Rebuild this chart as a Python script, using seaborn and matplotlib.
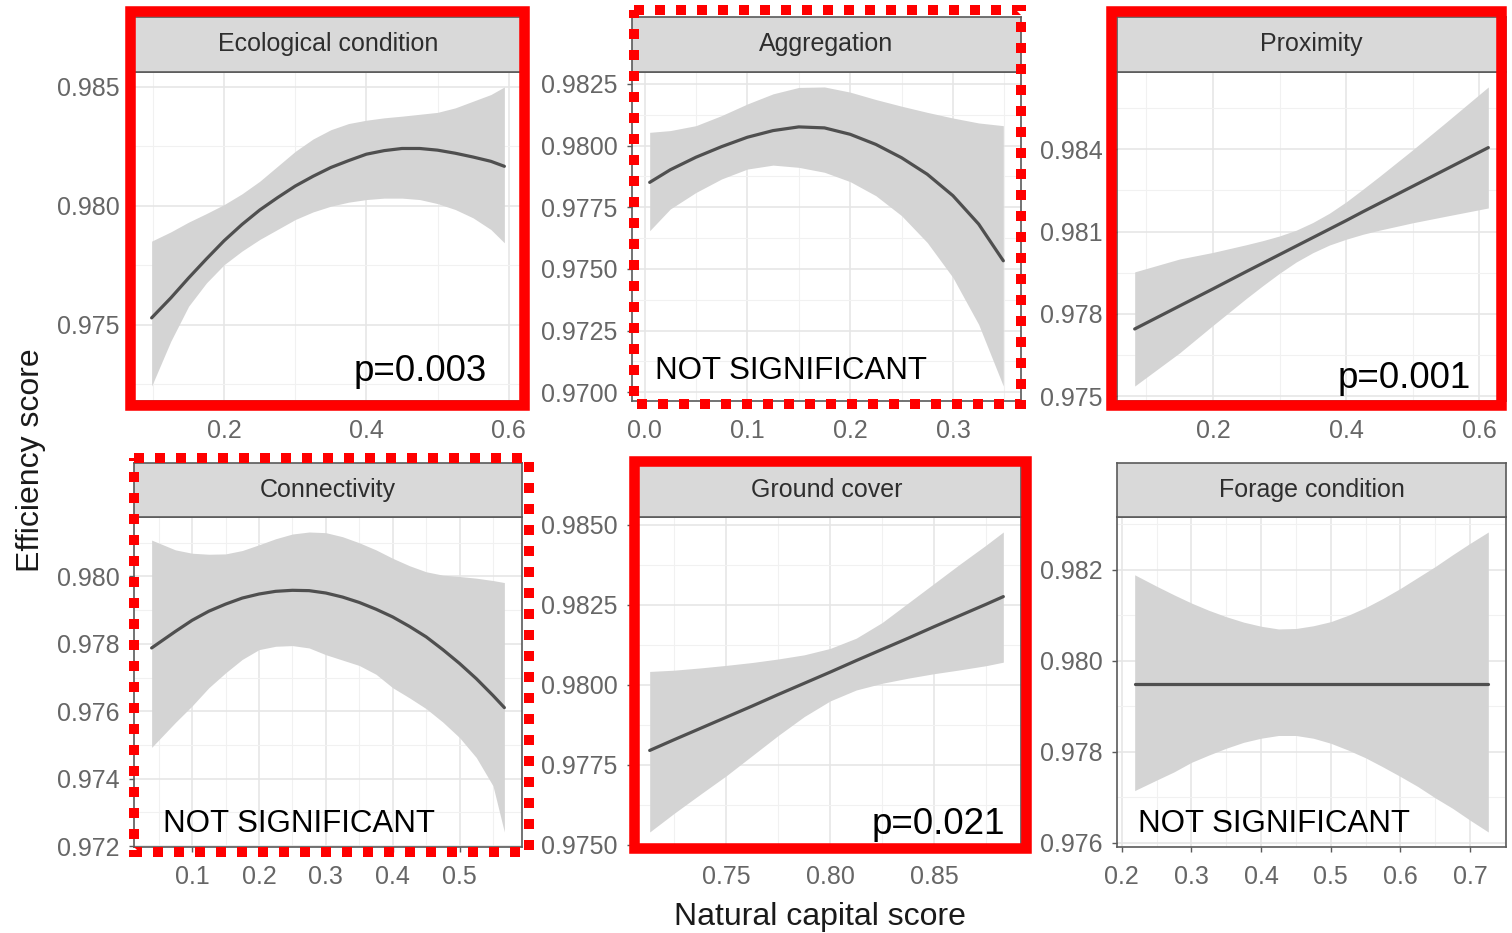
import matplotlib
matplotlib.use("Agg")
import matplotlib.pyplot as plt
from matplotlib.patches import Rectangle
from matplotlib.ticker import FixedLocator, MultipleLocator, FormatStrFormatter
import pandas as pd
import seaborn as sns

sns.set_theme(style="white")
plt.rcParams['font.family'] = ['Liberation Sans', 'DejaVu Sans']

# ---- values ----
panel_names = ["Ecological condition", "Aggregation", "Proximity",
               "Connectivity", "Ground cover", "Forage condition"]
panel_notes = ["p=0.003", "NOT SIGNIFICANT", "p=0.001",
               "NOT SIGNIFICANT", "p=0.021", "NOT SIGNIFICANT"]

eco_x = [0.098, 0.125, 0.15, 0.175, 0.20, 0.225, 0.25, 0.275, 0.30, 0.325, 0.35,
         0.375, 0.40, 0.425, 0.45, 0.475, 0.50, 0.525, 0.55, 0.575, 0.594]
eco_fit = [0.97528, 0.97612, 0.97696, 0.97776, 0.97853, 0.97921, 0.97982, 0.98034, 0.98083, 0.98124, 0.98161,
           0.98190, 0.98217, 0.98232, 0.98241, 0.98241, 0.98234, 0.98221, 0.98205, 0.98187, 0.98166]
eco_hi = [0.97851, 0.97890, 0.97931, 0.97967, 0.98005, 0.98050, 0.98103, 0.98166, 0.98229, 0.98281, 0.98320,
          0.98346, 0.98360, 0.98370, 0.98377, 0.98385, 0.98393, 0.98412, 0.98440, 0.98468, 0.98500]
eco_lo = [0.97241, 0.97430, 0.97577, 0.97675, 0.97752, 0.97809, 0.97858, 0.97900, 0.97942, 0.97974, 0.97998,
          0.98015, 0.98026, 0.98032, 0.98032, 0.98026, 0.98009, 0.97984, 0.97949, 0.97900, 0.97844]

agg_x = [0.005, 0.025, 0.05, 0.075, 0.10, 0.125, 0.15, 0.175, 0.20, 0.225, 0.25, 0.275, 0.30, 0.325, 0.349]
agg_fit = [0.97851, 0.97902, 0.97953, 0.97996, 0.98034, 0.98061, 0.98076, 0.98072, 0.98046, 0.98005, 0.97951, 0.97884, 0.97797, 0.97682, 0.97533]
agg_hi = [0.98054, 0.98061, 0.98081, 0.98122, 0.98169, 0.98210, 0.98236, 0.98238, 0.98217, 0.98187, 0.98160, 0.98135, 0.98112, 0.98092, 0.98081]
agg_lo = [0.97655, 0.97743, 0.97810, 0.97865, 0.97905, 0.97921, 0.97912, 0.97892, 0.97854, 0.97797, 0.97716, 0.97607, 0.97465, 0.97275, 0.97025]

prox_x = [0.0825, 0.15, 0.20, 0.25, 0.275, 0.30, 0.325, 0.35, 0.375, 0.40, 0.425, 0.45, 0.50, 0.55, 0.6135]
prox_fit = [0.97745, 0.97829, 0.97891, 0.97954, 0.97985, 0.98016, 0.98047, 0.98078, 0.98109, 0.98140, 0.98172, 0.98203, 0.98265, 0.98327, 0.98406]
prox_hi = [0.97953, 0.98000, 0.98024, 0.98052, 0.98067, 0.98084, 0.98105, 0.98133, 0.98167, 0.98208, 0.98254, 0.98301, 0.98398, 0.98498, 0.98627]
prox_lo = [0.97537, 0.97658, 0.97758, 0.97856, 0.97903, 0.97948, 0.97989, 0.98023, 0.98051, 0.98072, 0.98090, 0.98105, 0.98132, 0.98156, 0.98186]

conn_x = [0.0395, 0.075, 0.10, 0.125, 0.15, 0.175, 0.20, 0.225, 0.25, 0.275, 0.30,
          0.325, 0.35, 0.375, 0.40, 0.425, 0.45, 0.475, 0.50, 0.525, 0.55, 0.567]
conn_fit = [0.97788, 0.97837, 0.97870, 0.97897, 0.97918, 0.97936, 0.97948, 0.97956, 0.97959, 0.97958, 0.97951,
            0.97939, 0.97923, 0.97903, 0.97880, 0.97852, 0.97821, 0.97783, 0.97742, 0.97697, 0.97647, 0.97611]
conn_hi = [0.98108, 0.98079, 0.98069, 0.98066, 0.98067, 0.98077, 0.98094, 0.98112, 0.98126, 0.98132, 0.98130,
           0.98118, 0.98100, 0.98079, 0.98054, 0.98032, 0.98014, 0.98004, 0.98000, 0.97995, 0.97988, 0.97982]
conn_lo = [0.97493, 0.97567, 0.97616, 0.97670, 0.97714, 0.97754, 0.97783, 0.97793, 0.97795, 0.97788, 0.97768,
           0.97752, 0.97736, 0.97710, 0.97670, 0.97640, 0.97608, 0.97568, 0.97522, 0.97463, 0.97379, 0.97242]

gc_x = [0.7131, 0.725, 0.7375, 0.75, 0.7625, 0.775, 0.7875, 0.80, 0.8125, 0.825, 0.8375, 0.85, 0.8625, 0.875, 0.8833]
gc_fit = [0.97795, 0.97829, 0.97864, 0.97899, 0.97934, 0.97970, 0.98005, 0.98040, 0.98076, 0.98111, 0.98146, 0.98182, 0.98217, 0.98252, 0.98276]
gc_hi = [0.98042, 0.98046, 0.98053, 0.98061, 0.98070, 0.98081, 0.98094, 0.98114, 0.98146, 0.98195, 0.98256, 0.98317, 0.98378, 0.98437, 0.98478]
gc_lo = [0.97540, 0.97599, 0.97658, 0.97716, 0.97779, 0.97842, 0.97901, 0.97950, 0.97984, 0.98005, 0.98021, 0.98035, 0.98047, 0.98060, 0.98071]

for_x = [0.2186, 0.25, 0.275, 0.30, 0.325, 0.35, 0.375, 0.40, 0.425, 0.45, 0.475,
         0.50, 0.525, 0.55, 0.575, 0.60, 0.625, 0.65, 0.675, 0.70, 0.7263]
for_fit = [0.97949, 0.97949, 0.97949, 0.97949, 0.97949, 0.97949, 0.97949, 0.97949, 0.97949, 0.97949, 0.97949,
           0.97949, 0.97949, 0.97949, 0.97949, 0.97949, 0.97949, 0.97949, 0.97949, 0.97949, 0.97949]
for_hi = [0.98189, 0.98164, 0.98145, 0.98127, 0.98111, 0.98097, 0.98085, 0.98076, 0.98070, 0.98071, 0.98077,
          0.98086, 0.98100, 0.98117, 0.98137, 0.98159, 0.98183, 0.98207, 0.98233, 0.98258, 0.98283]
for_lo = [0.97715, 0.97738, 0.97756, 0.97777, 0.97793, 0.97808, 0.97821, 0.97830, 0.97836, 0.97836, 0.97830,
          0.97819, 0.97804, 0.97787, 0.97767, 0.97746, 0.97724, 0.97699, 0.97676, 0.97650, 0.97624]

eco_xticks = [0.2, 0.4, 0.6]
eco_yticks = [0.975, 0.980, 0.985]
agg_xticks = [0.0, 0.1, 0.2, 0.3]
agg_yticks = [0.9700, 0.9725, 0.9750, 0.9775, 0.9800, 0.9825]
prox_xticks = [0.2, 0.4, 0.6]
prox_yticks = [0.975, 0.978, 0.981, 0.984]
conn_xticks = [0.1, 0.2, 0.3, 0.4, 0.5]
conn_yticks = [0.972, 0.974, 0.976, 0.978, 0.980]
gc_xticks = [0.75, 0.80, 0.85]
gc_yticks = [0.9750, 0.9775, 0.9800, 0.9825, 0.9850]
for_xticks = [0.2, 0.3, 0.4, 0.5, 0.6, 0.7]
for_yticks = [0.976, 0.978, 0.980, 0.982]

panels = [
    (eco_x, eco_fit, eco_lo, eco_hi, eco_xticks, eco_yticks, '%.1f', '%.3f'),
    (agg_x, agg_fit, agg_lo, agg_hi, agg_xticks, agg_yticks, '%.1f', '%.4f'),
    (prox_x, prox_fit, prox_lo, prox_hi, prox_xticks, prox_yticks, '%.1f', '%.3f'),
    (conn_x, conn_fit, conn_lo, conn_hi, conn_xticks, conn_yticks, '%.1f', '%.3f'),
    (gc_x, gc_fit, gc_lo, gc_hi, gc_xticks, gc_yticks, '%.2f', '%.4f'),
    (for_x, for_fit, for_lo, for_hi, for_xticks, for_yticks, '%.1f', '%.3f'),
]

# ---- layout (pixels of a 1512 x 933 canvas) ----
W, H = 1512, 933
col_left = [134, 632, 1117]
col_width = [388, 389, 389]
strip_top = [17, 463]
plot_top = [72, 517]
plot_bottom = [401, 847]

BAND = '#d4d4d4'
LINE = '#4f4f4f'
BORDER = '#5a5a5a'
TICKTXT = '#666666'

fig = plt.figure(figsize=(W / 100, H / 100), dpi=100)

for i, (x, fit, lo, hi, xt, yt, xfmt, yfmt) in enumerate(panels):
    r, c = divmod(i, 3)
    left = col_left[c] / W
    width = col_width[c] / W
    ax = fig.add_axes([left, 1 - plot_bottom[r] / H, width,
                       (plot_bottom[r] - plot_top[r]) / H])
    df = pd.DataFrame({'x': x, 'fit': fit})
    ax.fill_between(x, lo, hi, color=BAND, lw=0, zorder=2)
    sns.lineplot(data=df, x='x', y='fit', ax=ax, color=LINE, linewidth=2.3,
                 zorder=3)

    # ggplot-style 5% expansion
    xr = max(x) - min(x)
    yr = max(hi) - min(lo)
    ax.set_xlim(min(x) - 0.05 * xr, max(x) + 0.05 * xr)
    ax.set_ylim(min(lo) - 0.05 * yr, max(hi) + 0.05 * yr)

    ax.xaxis.set_major_locator(FixedLocator(xt))
    ax.yaxis.set_major_locator(FixedLocator(yt))
    ax.xaxis.set_minor_locator(MultipleLocator((xt[1] - xt[0]) / 2))
    ax.yaxis.set_minor_locator(MultipleLocator((yt[1] - yt[0]) / 2))
    ax.xaxis.set_major_formatter(FormatStrFormatter(xfmt))
    ax.yaxis.set_major_formatter(FormatStrFormatter(yfmt))

    ax.set_facecolor('white')
    ax.grid(which='major', color='#e6e6e6', linewidth=1.2)
    ax.grid(which='minor', color='#f1f1f1', linewidth=0.8)
    ax.set_axisbelow(True)
    for sp in ax.spines.values():
        sp.set_visible(True)
        sp.set_color(BORDER)
        sp.set_linewidth(1.2)
    ax.tick_params(which='major', direction='out', length=3.5, width=1,
                   color=BORDER, labelsize=18, labelcolor=TICKTXT, pad=7,
                   bottom=True, left=True)
    ax.tick_params(axis='x', which='major', pad=9.5)
    ax.tick_params(which='minor', length=0)
    ax.set_xlabel('')
    ax.set_ylabel('')

    # facet strip
    sx = fig.add_axes([left, 1 - plot_top[r] / H, width,
                       (plot_top[r] - strip_top[r]) / H])
    sx.set_facecolor('#d9d9d9')
    sx.set_xticks([])
    sx.set_yticks([])
    for sp in sx.spines.values():
        sp.set_color(BORDER)
        sp.set_linewidth(1.2)
    sx.text(0.5, 0.5, panel_names[i], ha='center', va='center',
            fontsize=18, color='#2e2e2e', transform=sx.transAxes)

# shared axis titles
fig.text(820 / W, 1 - 925 / H, 'Natural capital score', ha='center',
         va='baseline', fontsize=23, color='#1a1a1a')
fig.text(31 / W, 1 - 460 / H, 'Efficiency score', ha='center', va='center',
         rotation=90, fontsize=23, color='#1a1a1a')

# overlay in pixel coordinates for the red boxes and notes
ov = fig.add_axes([0, 0, 1, 1], zorder=10)
ov.set_xlim(0, W)
ov.set_ylim(H, 0)
ov.axis('off')
ov.patch.set_alpha(0)

solid_boxes = [(130, 11.3, 524, 405.3), (1111, 11.3, 1501.3, 405),
               (633.7, 461.3, 1025.8, 848.3)]
dotted_boxes = [(634, 10, 1021, 404), (134, 458.3, 528.6, 852)]
for x0, y0, x1, y1 in solid_boxes:
    ov.add_patch(Rectangle((x0, y0), x1 - x0, y1 - y0, fill=False,
                           edgecolor='#ff0000', linewidth=7.6))
for x0, y0, x1, y1 in dotted_boxes:
    ov.add_patch(Rectangle((x0, y0), x1 - x0, y1 - y0, fill=False,
                           edgecolor='#ff0000', linewidth=7.2,
                           linestyle=(0, (1.0, 1.1))))

note_pos = [(354, 381, 26.5), (655, 379, 22.5), (1338, 388, 26.5),
            (163, 832, 22.5), (872, 834, 26.5), (1138, 832, 22.5)]
for (nx, ny, fs), note in zip(note_pos, panel_notes):
    ov.text(nx, ny, note, ha='left', va='baseline', fontsize=fs,
            color='black')

fig.savefig('out.png', dpi=100)
